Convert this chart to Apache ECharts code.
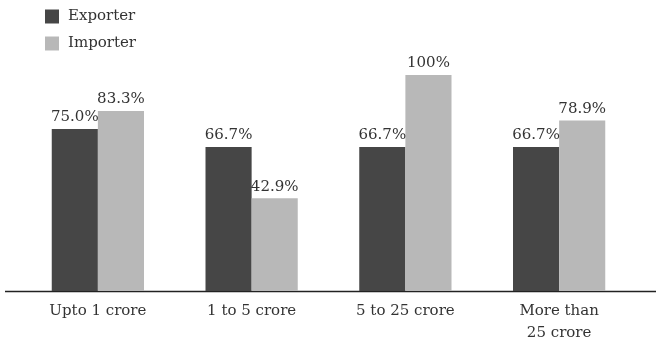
<!DOCTYPE html>
<html>
<head>
<meta charset="utf-8">
<script src="https://cdn.jsdelivr.net/npm/echarts@6/dist/echarts.min.js"></script>
<style>
  html, body { margin: 0; padding: 0; background: #fff; }
  #chart { width: 656px; height: 342px; }
</style>
</head>
<body>
<div id="chart"></div>
<script>
// Share of firms by turnover band
const categories = ['Upto 1 crore', '1 to 5 crore', '5 to 25 crore', 'More than\n25 crore'];
const exporterValues = [75.0, 66.7, 66.7, 66.7];
const importerValues = [83.3, 42.9, 100, 78.9];
const exporterLabels = ['75.0%', '66.7%', '66.7%', '66.7%'];
const importerLabels = ['83.3%', '42.9%', '100%', '78.9%'];

const FONT = '"DejaVu Serif", Georgia, serif';
const TEXT = '#333333';

const chart = echarts.init(document.getElementById('chart'));

function barLabel(texts) {
  return {
    show: true,
    position: 'top',
    distance: 4,
    fontFamily: FONT,
    fontSize: 15,
    color: TEXT,
    formatter: p => texts[p.dataIndex]
  };
}

const gridLeft = 21, gridRight = 20, gridTop = 75, gridBottom = 51;

chart.setOption({
  animation: false,
  legend: {
    orient: 'vertical',
    left: 40,
    top: 4,
    itemWidth: 14,
    itemHeight: 14,
    itemGap: 12,
    icon: 'rect',
    textStyle: { fontFamily: FONT, fontSize: 15, color: TEXT, padding: [0, 0, 0, 4] },
    data: ['Exporter', 'Importer']
  },
  grid: {
    left: gridLeft, right: gridRight, top: gridTop, bottom: gridBottom,
    outerBoundsMode: 'none',
    containLabel: false
  },
  xAxis: {
    type: 'category',
    data: categories,
    axisLine: { show: false },
    axisTick: { show: false },
    axisLabel: {
      fontFamily: FONT,
      fontSize: 15,
      color: TEXT,
      margin: 9,
      lineHeight: 22
    }
  },
  yAxis: {
    type: 'value',
    min: 0,
    max: 100,
    show: false,
    splitLine: { show: false }
  },
  graphic: [{
    type: 'line',
    shape: { x1: 5, y1: 0, x2: 656, y2: 0 },
    y: 342 - gridBottom + 0.5,
    style: { stroke: '#222222', lineWidth: 1.5 }
  }],
  series: [
    {
      name: 'Exporter',
      type: 'bar',
      data: exporterValues,
      barGap: '0%',
      barCategoryGap: '40%',
      itemStyle: { color: '#464646' },
      label: barLabel(exporterLabels)
    },
    {
      name: 'Importer',
      type: 'bar',
      data: importerValues,
      itemStyle: { color: '#b8b8b8' },
      label: barLabel(importerLabels)
    }
  ]
});
</script>
</body>
</html>
